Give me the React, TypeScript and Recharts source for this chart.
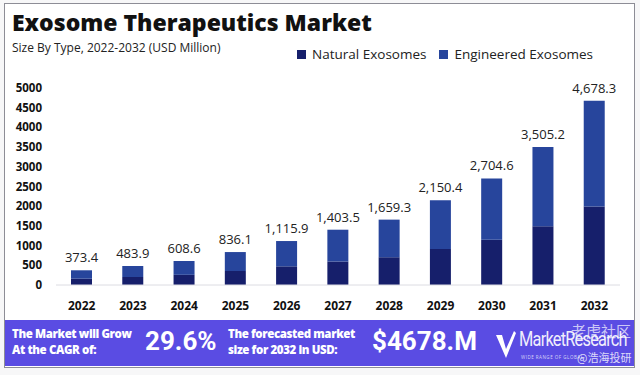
import { BarChart, Bar, XAxis, YAxis, LabelList } from "recharts";

// #region Data

const years = ["2022", "2023", "2024", "2025", "2026", "2027", "2028", "2029", "2030", "2031", "2032"];
const naturalExosomes = [160, 205, 258, 355, 474, 596, 705, 914, 1150, 1490, 1990];
const engineeredExosomes = [213.4, 278.9, 350.6, 481.1, 641.9, 807.5, 954.3, 1236.4, 1554.6, 2015.2, 2688.3];
const totalLabels = ["373.4", "483.9", "608.6", "836.1", "1,115.9", "1,403.5", "1,659.3", "2,150.4", "2,704.6", "3,505.2", "4,678.3"];
const yTicks = [0, 500, 1000, 1500, 2000, 2500, 3000, 3500, 4000, 4500, 5000];
const seriesNames = ["Natural Exosomes", "Engineered Exosomes"];

// #endregion

const data = years.map((year, i) => ({
    year,
    natural: naturalExosomes[i],
    engineered: engineeredExosomes[i],
    label: totalLabels[i],
}));

const NAVY = "#161f6b";
const BLUE = "#27459c";
const BANNER = "#5a4ce3";
const FONT = "'Open Sans', sans-serif";
const seriesColors = [NAVY, BLUE];

const App = () => {
    return (
        <div
            style={{
                position: "absolute",
                left: 0,
                top: 0,
                width: 640,
                height: 375,
                background: "#f7f7f8",
                fontFamily: FONT,
                overflow: "hidden",
            }}
        >
            {/* frame */}
            <div
                style={{
                    position: "absolute",
                    left: 4,
                    top: 3,
                    width: 629,
                    height: 363,
                    background: "#fff",
                    border: "1px solid #8d8d96",
                }}
            />
            <div
                style={{
                    position: "absolute",
                    left: 12,
                    top: 6,
                    fontSize: 23,
                    fontWeight: 800,
                    color: "#111",
                }}
            >
                Exosome Therapeutics Market
            </div>
            <div style={{ position: "absolute", left: 12, top: 39, fontSize: 12, color: "#222" }}>
                Size By Type, 2022-2032 (USD Million)
            </div>

            {/* legend */}
            <div style={{ position: "absolute", left: 297, top: 45, display: "flex", fontSize: 13.5, color: "#222" }}>
                {seriesNames.map((name, i) => (
                    <div key={name} style={{ display: "flex", alignItems: "center", marginRight: 13 }}>
                        <span
                            style={{
                                display: "inline-block",
                                width: 9,
                                height: 9,
                                background: seriesColors[i],
                                marginRight: 6,
                            }}
                        />
                        {name}
                    </div>
                ))}
            </div>

            <div style={{ position: "absolute", left: 0, top: 0 }}>
                <BarChart
                    width={640}
                    height={375}
                    data={data}
                    margin={{ top: 88, right: 20, bottom: 60, left: 0 }}
                    barSize={21}
                >
                    <XAxis
                        dataKey="year"
                        height={30}
                        tickLine={false}
                        axisLine={{ stroke: "#dcdce2" }}
                        tickMargin={10}
                        tick={{ fontSize: 12, fontWeight: 700, fill: "#111", fontFamily: FONT }}
                        interval={0}
                    />
                    <YAxis
                        width={56}
                        domain={[0, 5000]}
                        ticks={yTicks}
                        interval={0}
                        tickLine={false}
                        axisLine={false}
                        tickMargin={8}
                        tick={{ fontSize: 11.5, fontWeight: 700, fill: "#111", fontFamily: FONT }}
                    />
                    <Bar dataKey="natural" name={seriesNames[0]} stackId="a" fill={NAVY} isAnimationActive={false} />
                    <Bar dataKey="engineered" name={seriesNames[1]} stackId="a" fill={BLUE} isAnimationActive={false}>
                        <LabelList
                            dataKey="label"
                            position="top"
                            offset={8}
                            style={{ fontSize: 13, fill: "#222", fontFamily: FONT }}
                        />
                    </Bar>
                </BarChart>
            </div>

            {/* banner */}
            <div
                style={{
                    position: "absolute",
                    left: 5,
                    top: 320,
                    width: 629,
                    height: 46,
                    background: BANNER,
                    color: "#fff",
                    overflow: "hidden",
                }}
            >
                <div
                    style={{
                        position: "absolute",
                        left: 7,
                        top: 6,
                        fontSize: 11.5,
                        fontWeight: 800,
                        lineHeight: "16px",
                        letterSpacing: -0.4,
                        whiteSpace: "nowrap",
                    }}
                >
                    The Market will Grow
                    <br />
                    At the CAGR of:
                </div>
                <div
                    style={{
                        position: "absolute",
                        left: 140,
                        top: 6,
                        fontSize: 26,
                        fontWeight: 700,
                        fontFamily: "Roboto, sans-serif",
                    }}
                >
                    29.6%
                </div>
                <div
                    style={{
                        position: "absolute",
                        left: 223,
                        top: 6,
                        fontSize: 11.5,
                        fontWeight: 800,
                        lineHeight: "16px",
                        letterSpacing: -0.4,
                        whiteSpace: "nowrap",
                    }}
                >
                    The forecasted market
                    <br />
                    size for 2032 in USD:
                </div>
                <div
                    style={{
                        position: "absolute",
                        left: 367,
                        top: 6,
                        fontSize: 26,
                        fontWeight: 700,
                        fontFamily: "Roboto, sans-serif",
                    }}
                >
                    $4678.M
                </div>
                <svg style={{ position: "absolute", left: 490, top: 9 }} width={22} height={30}>
                    <path d="M1 6 L7 6 L11 20 L19 2 L21 4 L11 29 Z" fill="#fff" />
                </svg>
                <div
                    style={{
                        position: "absolute",
                        left: 514,
                        top: 7,
                        fontSize: 21,
                        fontFamily: "Roboto, sans-serif",
                        letterSpacing: -1,
                        color: "#f0eefc",
                        transform: "scaleX(0.78)",
                        transformOrigin: "left top",
                        whiteSpace: "nowrap",
                    }}
                >
                    MarketResearch
                </div>
                <div
                    style={{
                        position: "absolute",
                        left: 516,
                        top: 34,
                        fontSize: 4.5,
                        letterSpacing: 0.5,
                        color: "#d8d4f8",
                        whiteSpace: "nowrap",
                    }}
                >
                    WIDE RANGE OF GLOBAL
                </div>
                <div
                    style={{
                        position: "absolute",
                        left: 566,
                        top: 0,
                        fontSize: 15,
                        fontFamily: "'Noto Sans CJK SC', sans-serif",
                        color: "rgba(255,255,255,0.7)",
                        whiteSpace: "nowrap",
                    }}
                >
                    老虎社区
                </div>
                <div
                    style={{
                        position: "absolute",
                        left: 572,
                        top: 30,
                        fontSize: 11,
                        lineHeight: "14px",
                        fontFamily: "'Noto Sans CJK SC', sans-serif",
                        color: "rgba(255,255,255,0.8)",
                        whiteSpace: "nowrap",
                    }}
                >
                    @浩海投研
                </div>
            </div>
        </div>
    );
};

export default App;
